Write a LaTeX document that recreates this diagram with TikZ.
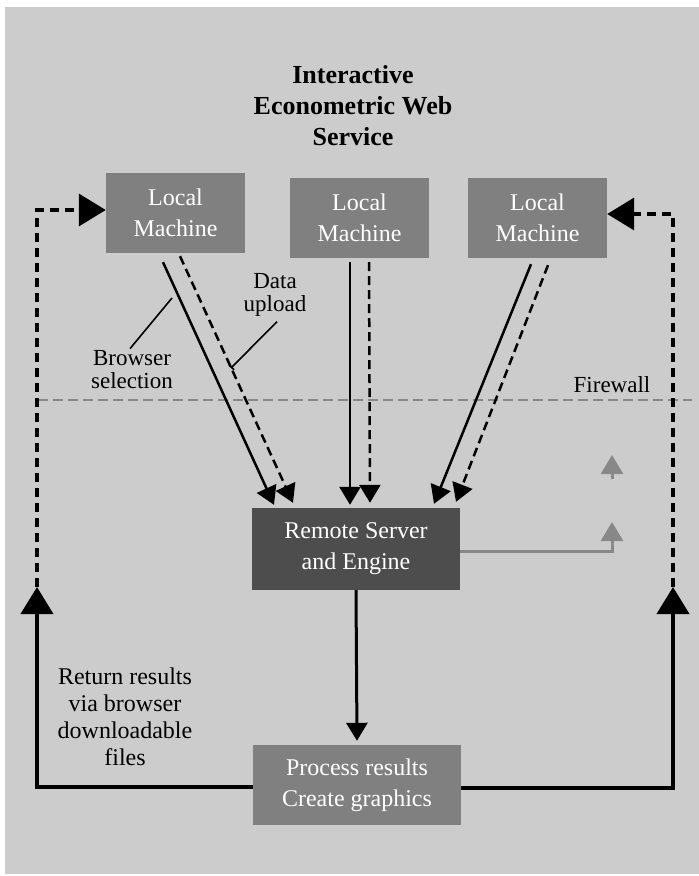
\documentclass[tikz,border=0pt]{standalone}
\usepackage{fontspec}
\setmainfont{Liberation Serif}
\usetikzlibrary{arrows.meta,positioning,calc}
\definecolor{paneback}{HTML}{CCCCCC}
\definecolor{boxmid}{HTML}{808080}
\definecolor{boxdark}{HTML}{4D4D4D}
\definecolor{wallgray}{HTML}{888888}

\begin{document}
\begin{tikzpicture}[x=1pt,y=-1pt,
  machine/.style={fill=boxmid,text=white,minimum width=139pt,minimum height=80pt,
    inner sep=0pt,align=center,font=\fontsize{24}{31}\selectfont},
  engine/.style={machine,fill=boxdark,minimum width=208pt,minimum height=82pt},
  notetext/.style={align=center,inner sep=0pt,font=\fontsize{23}{23}\selectfont},
  upline/.style={line width=2.5pt,-{Triangle[length=18pt,width=21pt]}},
  updash/.style={upline,dash pattern=on 9pt off 5pt},
  loopline/.style={line width=4pt},
  loopdash/.style={line width=3.5pt,dash pattern=on 9pt off 6pt},
  bigtip/.style={-{Triangle[length=27pt,width=32pt]}},
  walltip/.style={line width=3pt,wallgray,-{Triangle[length=19pt,width=22pt]}}]
\useasboundingbox (0,0) rectangle (699,876);
\fill[paneback] (5,7) rectangle (699,874);
\node[font=\fontsize{26}{31}\selectfont\bfseries,align=center] (title) at (353,106)
  {Interactive\\Econometric Web\\Service};
\node[machine] (lm1) at (175.5,213) {Local\\Machine};
\node[machine] (lm2) at (359.5,218) {Local\\Machine};
\node[machine] (lm3) at (537.5,218) {Local\\Machine};
\node[engine] (engine) at (356,549) {Remote Server\\and Engine};
\node[machine,minimum width=208pt] (proc) at (357,785) {Process results\\Create graphics};
\coordinate (fwL) at (38,400);
\coordinate (fwR) at (692,400);
\draw[wallgray,line width=2pt,dash pattern=on 10pt off 5pt] (fwL) -- (fwR);
\node[notetext,anchor=base] (firewall) at (612,392) {Firewall};
\draw[upline] ($(lm1.south)+(-12.5,9)$) -- ($(engine.north)+(-82,-3)$);
\draw[updash] ($(lm1.south)+(4.5,3)$) -- ($(engine.north)+(-63,-5)$);
\draw[upline] ($(lm2.south)+(-9.5,4)$) -- ($(engine.north)+(-6,-3)$);
\draw[updash] ($(lm2.south)+(9.5,4)$) -- ($(engine.north)+(14,-5)$);
\draw[upline] ($(lm3.south)+(-6.5,6)$) -- ($(engine.north)+(78,-4)$);
\draw[updash] ($(lm3.south)+(10.5,7)$) -- ($(engine.north)+(100,-6)$);
\draw[upline,line width=3pt] (engine.south) -- ($(proc.north)+(0,-4)$);
\node[notetext] (browser) at (132,370) {Browser\\selection};
\node[notetext] (upload) at (275,295) {Data\\upload};
\coordinate (brB) at (172,298);
\coordinate (dtB) at (231,368);
\draw[line width=1.6pt] ($(browser.north)+(-2,-2)$) -- (brB);
\draw[line width=1.6pt,-{Bar[width=7pt]}] ($(upload.south)+(2,5)$) -- (dtB);
\coordinate (wallA) at (612,522);
\coordinate (wallB0) at (612,479);
\coordinate (wallB) at (612,455);
\draw[walltip] ($(engine.east)+(0,2)$) -| (wallA);
\draw[walltip] (wallB0) -- (wallB);
\coordinate (retL) at (37,587);
\coordinate (retR) at (673,587);
\draw[loopline,bigtip] ($(proc.west)+(0,2)$) -| (retL);
\draw[loopdash,bigtip] (retL) |- ($(lm1.west)+(0,-3)$);
\draw[loopline,bigtip] ($(proc.east)+(0,3)$) -| (retR);
\draw[loopdash,bigtip] (retR) |- ($(lm3.east)+(0,-4)$);
\node[notetext,font=\fontsize{24}{27}\selectfont] (return) at (125,717)
  {Return results\\via browser\\downloadable\\files};
\end{tikzpicture}
\end{document}
